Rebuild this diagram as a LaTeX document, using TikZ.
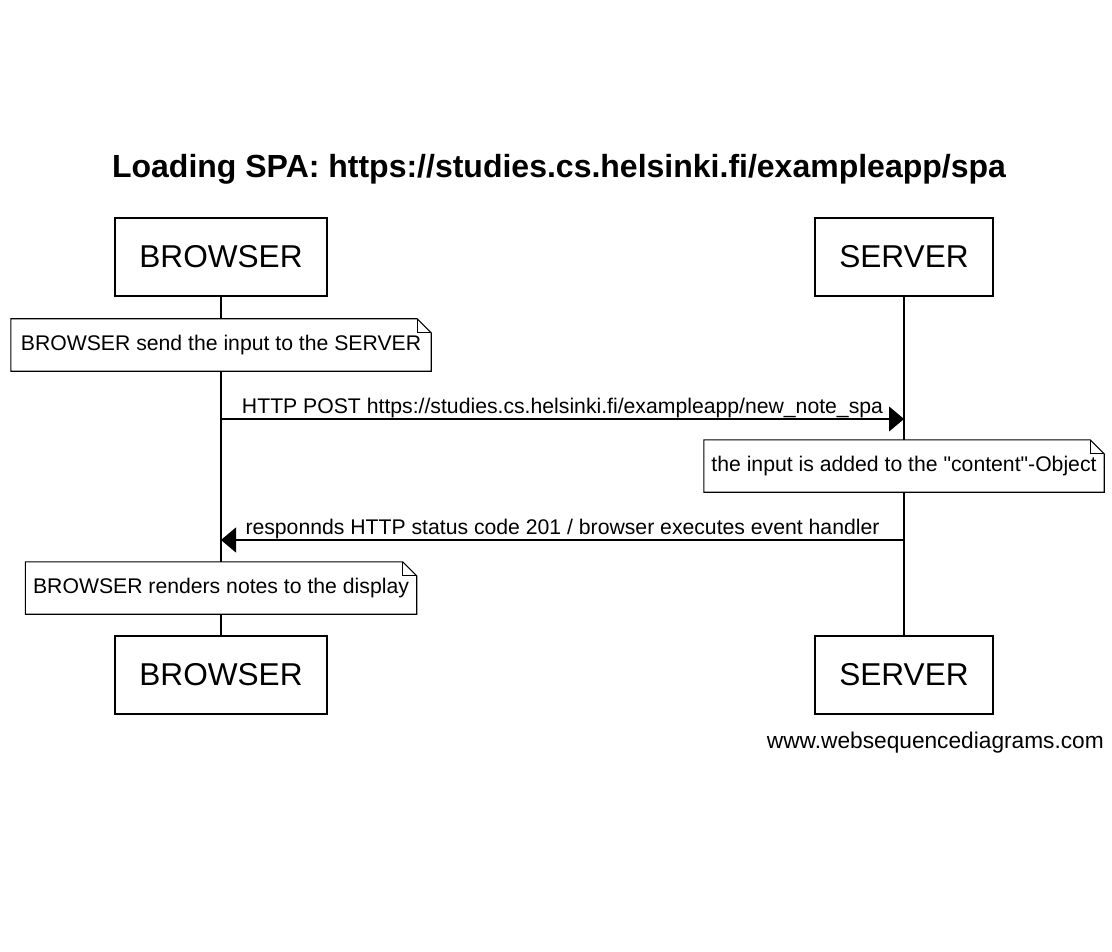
\documentclass[tikz,border=0pt]{standalone}
\usepackage{fontspec}
\setmainfont{Liberation Sans}[Ligatures = TeXOff]
\usetikzlibrary{arrows.meta}
\tikzset{
  actor/.style = {draw = black, line width = 1.3pt, fill = white, minimum height = 78pt, inner sep = 0pt, font = \fontsize{31.6}{36}\selectfont},
  notebox/.style = {fill = white, minimum height = 52pt, inner sep = 0pt, font = \fontsize{21.2}{25}\selectfont},
  noteline/.style = {draw = black, line width = 1.1pt, line join = miter},
  lifeline/.style = {draw = black, line width = 1.3pt},
  msg/.style = {draw = black, line width = 1.1pt, -{Triangle[length = 15pt, width = 25pt]}},
  msglabel/.style = {midway, anchor = base, yshift = 6pt, inner sep = 0pt, font = \fontsize{21.2}{25}\selectfont}
}
\begin{document}
\begin{tikzpicture}[x = 1pt, y = -1pt]
\useasboundingbox (0,0) rectangle (1112,952);
\pgfmathsetmacro\fold{14};
\node[anchor = base, font = \bfseries\fontsize{32}{37}\selectfont] (title) at (559,178) {Loading SPA: https://studies.cs.helsinki.fi/exampleapp/spa};
\node[actor, minimum width = 212pt] (browser) at (221,257) {BROWSER};
\node[actor, minimum width = 178pt] (server) at (904,257) {SERVER};
\node[actor, minimum width = 212pt] (browserEnd) at (221,675) {BROWSER};
\node[actor, minimum width = 178pt] (serverEnd) at (904,675) {SERVER};
\draw[lifeline] (browser) -- (browserEnd);
\draw[lifeline] (server) -- (serverEnd);
\node[notebox, minimum width = 420pt] (sendNote) at (221,345) {BROWSER send the input to the SERVER};
\node[notebox, minimum width = 400pt] (addNote) at (904,466) {the input is added to the "content"-Object};
\node[notebox, minimum width = 391pt] (renderNote) at (221,588) {BROWSER renders notes to the display};
\foreach \n in {sendNote,addNote,renderNote} {
  \draw[noteline] (\n.north west) -- ([xshift = -\fold pt]\n.north east) -- ([yshift = -\fold pt]\n.north east) -- (\n.south east) -- (\n.south west) -- cycle;
  \draw[noteline] ([xshift = -\fold pt]\n.north east) -- ([xshift = -\fold pt, yshift = -\fold pt]\n.north east) -- ([yshift = -\fold pt]\n.north east);
}
\coordinate (postFrom) at (221,419);
\coordinate (postTo) at (904,419);
\coordinate (respFrom) at (904,540);
\coordinate (respTo) at (221,540);
\draw[msg] (postFrom) -- node[msglabel] {HTTP POST https://studies.cs.helsinki.fi/exampleapp/new\_note\_spa} (postTo);
\draw[msg] (respFrom) -- node[msglabel] {responnds HTTP status code 201 / browser executes event handler} (respTo);
\node[anchor = east, inner sep = 0pt, font = \fontsize{22.7}{27}\selectfont] (credit) at (1104,743) {www.websequencediagrams.com};
\end{tikzpicture}
\end{document}
